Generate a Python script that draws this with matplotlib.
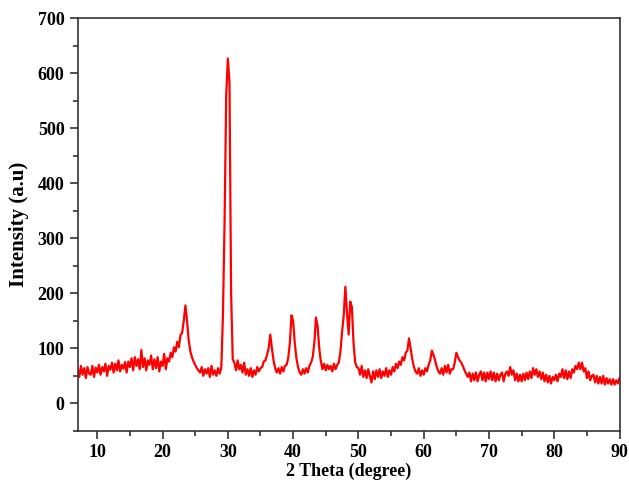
"""XRD pattern: intensity vs 2 theta."""

import matplotlib
matplotlib.use("Agg")
import matplotlib.pyplot as plt
import numpy as np
from matplotlib.ticker import MultipleLocator

# sampling grid in degrees (0.25 deg step), intensities
two_theta = np.arange(7.0, 90.001, 0.25)

# four readings per degree: x.00, x.25, x.50, x.75
intensity_rows = [
    [62, 48, 68, 52],      # 7
    [64, 46, 66, 54],      # 8
    [52, 68, 48, 65],      # 9
    [56, 70, 52, 66],      # 10
    [58, 72, 50, 68],      # 11
    [61, 74, 56, 72],      # 12
    [60, 78, 58, 70],      # 13
    [63, 75, 56, 76],      # 14
    [66, 82, 60, 84],      # 15
    [68, 80, 62, 97],      # 16
    [66, 82, 60, 78],      # 17
    [70, 87, 62, 80],      # 18
    [64, 84, 58, 76],      # 19
    [68, 90, 62, 82],      # 20
    [76, 92, 84, 102],     # 21
    [94, 112, 102, 124],   # 22
    [128, 150, 178, 150],  # 23
    [115, 95, 84, 76],     # 24
    [70, 64, 60, 56],      # 25
    [66, 50, 62, 54],      # 26
    [64, 48, 68, 52],      # 27
    [60, 50, 64, 54],      # 28
    [65, 160, 330, 560],   # 29
    [627, 585, 200, 80],   # 30
    [74, 60, 78, 62],      # 31
    [70, 56, 74, 52],      # 32
    [62, 50, 64, 48],      # 33
    [60, 52, 66, 58],      # 34
    [64, 66, 76, 78],      # 35
    [88, 100, 125, 100],   # 36
    [78, 64, 56, 64],      # 37
    [54, 66, 58, 68],      # 38
    [70, 82, 110, 160],    # 39
    [150, 110, 82, 66],    # 40
    [56, 52, 62, 54],      # 41
    [64, 56, 68, 74],      # 42
    [84, 110, 156, 140],   # 43
    [100, 76, 62, 72],     # 44
    [60, 70, 62, 68],      # 45
    [58, 72, 62, 70],      # 46
    [74, 95, 130, 160],    # 47
    [212, 165, 125, 185],  # 48
    [175, 110, 75, 66],    # 49
    [64, 52, 68, 48],      # 50
    [60, 46, 62, 50],      # 51
    [38, 58, 44, 60],      # 52
    [48, 62, 46, 58],      # 53
    [50, 64, 48, 60],      # 54
    [52, 66, 58, 72],      # 55
    [64, 76, 70, 84],      # 56
    [78, 92, 96, 118],     # 57
    [100, 80, 66, 58],     # 58
    [54, 64, 50, 60],      # 59
    [52, 64, 58, 70],      # 60
    [78, 96, 88, 78],      # 61
    [66, 58, 54, 64],      # 62
    [52, 68, 56, 70],      # 63
    [54, 62, 62, 74],      # 64
    [92, 84, 78, 74],      # 65
    [68, 60, 54, 48],      # 66
    [56, 40, 54, 42],      # 67
    [56, 40, 52, 58],      # 68
    [42, 56, 40, 56],      # 69
    [44, 58, 42, 56],      # 70
    [40, 54, 42, 52],      # 71
    [56, 40, 54, 58],      # 72
    [50, 66, 52, 60],      # 73
    [42, 54, 40, 52],      # 74
    [40, 54, 42, 56],      # 75
    [44, 58, 46, 64],      # 76
    [52, 62, 48, 58],      # 77
    [44, 56, 40, 52],      # 78
    [38, 50, 36, 48],      # 79
    [42, 52, 40, 54],      # 80
    [48, 62, 46, 60],      # 81
    [44, 58, 46, 62],      # 82
    [56, 68, 62, 74],      # 83
    [62, 74, 58, 64],      # 84
    [46, 58, 42, 50],      # 85
    [52, 38, 50, 36],      # 86
    [48, 36, 50, 34],      # 87
    [46, 36, 44, 34],      # 88
    [44, 34, 42, 36],      # 89
]
intensity_end = [46]  # 90

intensity = np.array([v for row in intensity_rows for v in row] + intensity_end, dtype=float)
assert len(intensity) == len(two_theta)

x_ticks = [10, 20, 30, 40, 50, 60, 70, 80, 90]
y_ticks = [0, 100, 200, 300, 400, 500, 600, 700]

plt.rcParams["font.family"] = ["Liberation Serif", "DejaVu Serif"]
plt.rcParams["font.weight"] = "bold"

fig = plt.figure(figsize=(6.29, 4.83), dpi=100)
ax = fig.add_axes([0.1235, 0.108, 0.8615, 0.854])

ax.plot(two_theta, intensity, color="#ff0000", linewidth=1.6)

ax.set_xlim(7, 90)
ax.set_ylim(-50, 700)
ax.set_xticks(x_ticks)
ax.set_yticks(y_ticks)
ax.xaxis.set_minor_locator(MultipleLocator(5))
ax.yaxis.set_minor_locator(MultipleLocator(50))

ax.tick_params(which="both", direction="out", top=False, right=False,
               labelsize=13, width=1.1, color="#222222")
ax.tick_params(which="major", length=6)
ax.tick_params(which="minor", length=3.5)
for label in ax.get_xticklabels() + ax.get_yticklabels():
    label.set_fontweight("bold")

for spine in ax.spines.values():
    spine.set_linewidth(1.2)
    spine.set_color("#333333")

ax.set_xlabel("2 Theta (degree)", fontsize=13, fontweight="bold", labelpad=1)
ax.set_ylabel("Intensity (a.u)", fontsize=15, fontweight="bold", labelpad=6)

fig.savefig("out.png", dpi=100)
plt.close(fig)
